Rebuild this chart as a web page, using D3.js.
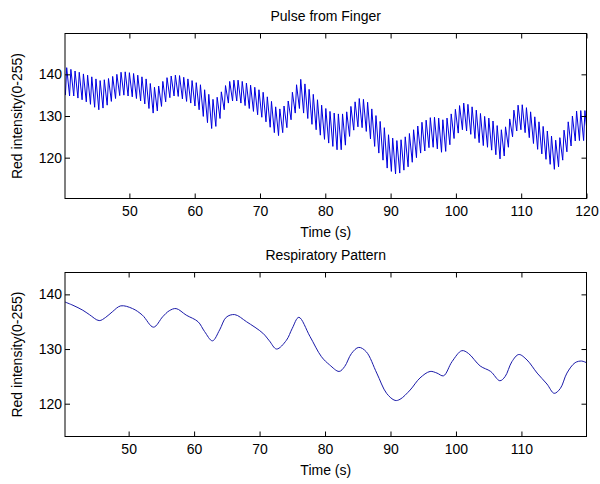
<!DOCTYPE html>
<html><head><meta charset="utf-8">
<script src="https://cdn.jsdelivr.net/npm/d3@7"></script>
<style>
body{margin:0;background:#fff}
text{font-family:"Liberation Sans",Arial,Helvetica,sans-serif;fill:#000}
</style>
</head><body>
<svg id="chart" width="600" height="484"></svg>
<script>
// ---------- data ----------
const pulseTitle = "Pulse from Finger";
const respTitle = "Respiratory Pattern";
const xLabel = "Time (s)";
const yLabel = "Red intensity(0-255)";
const pulseXTicks = [50, 60, 70, 80, 90, 100, 110, 120];
const respXTicks = [50, 60, 70, 80, 90, 100, 110];
const yTickValues = [120, 130, 140];
const pulseXDomain = [40.14, 120];
const pulseYDomain = [110.2, 149.8];
const respXDomain = [40.28, 119.94];
const respYDomain = [114, 144];

// pulse: beat onset times on a regular grid (s), trough then peak of each beat
const beatStart = 40.2;
const beatPeriod = 0.64;
const riseTime = 0.2;
const pulseLow = [
135.0,134.8,134.8,134.3,133.9,133.4,132.8,132.1,131.5,131.9,
132.6,133.5,134.2,134.9,135.0,134.8,134.6,134.2,133.6,132.9,
131.8,130.7,131.2,132.3,133.4,134.4,134.8,134.7,134.1,133.5,
133.1,132.4,131.5,129.9,128.4,127.0,127.5,129.4,131.5,133.1,
133.6,133.6,133.1,132.5,131.8,131.1,130.3,129.7,128.6,127.3,
126.0,125.3,126.0,127.2,129.1,130.7,131.8,130.7,129.4,128.0,
126.7,125.4,124.4,123.5,122.7,121.9,121.9,123.0,125.1,126.6,
127.4,127.2,126.3,124.5,122.7,121.1,119.4,117.5,116.7,116.1,
116.3,117.0,117.8,118.9,120.0,121.1,121.6,122.4,122.5,122.1,
121.3,121.5,123.1,124.6,125.9,126.7,126.4,125.6,124.6,123.6,
122.9,122.5,121.8,120.7,119.7,120.4,122.5,125.0,126.4,126.7,
126.0,124.8,123.4,122.0,120.9,119.6,118.4,117.2,117.8,119.4,
121.4,122.8,124.0,124.1,124.1,124.4];
const pulseHigh = [
141.6,141.2,140.8,140.5,140.1,139.8,139.4,138.9,138.5,138.7,
139.0,139.5,140.0,140.5,140.6,140.4,140.2,139.8,139.4,138.9,
137.8,136.9,137.2,138.3,139.2,139.6,139.8,139.7,139.3,138.9,
138.5,138.0,137.5,136.3,135.2,134.0,134.5,135.8,137.3,138.3,
138.6,138.6,138.3,137.9,137.4,136.9,136.3,135.7,134.6,133.5,
132.2,131.7,132.4,133.6,135.7,137.5,138.8,137.7,136.4,135.2,
133.9,132.6,131.8,131.1,130.7,130.5,130.5,131.0,132.3,133.4,
134.2,134.0,133.3,131.7,130.1,128.7,127.2,125.5,124.7,124.1,
124.3,125.0,125.8,126.7,127.6,128.5,129.0,129.6,129.7,129.5,
129.1,129.5,130.5,131.6,132.5,133.1,132.8,132.2,131.4,130.6,
129.9,129.5,128.8,127.7,126.7,127.4,129.3,131.4,132.6,132.7,
132.0,131.0,129.8,128.6,127.5,126.4,125.2,124.2,124.8,126.6,
128.6,130.0,131.2,131.3,131.3];

// respiratory pattern
const respTime = [40.28,41.5,43.0,44.0,45.5,46.5,47.5,48.8,50.6,52.1,53.8,55.2,56.2,57.25,58.8,60.6,61.6,62.8,63.9,64.9,66.2,68.0,70.5,71.5,72.6,74.1,75.0,76.0,77.7,79.45,80.7,82.15,83.0,84.05,85.15,86.3,87.9,89.4,90.7,91.45,93.0,94.5,96.05,97.1,98.1,99.4,100.9,101.9,103.7,105.3,106.7,107.5,108.55,109.6,110.85,112.4,113.9,115.0,115.95,116.95,118.2,119.2,119.94];
const respValue = [138.6,138.0,137.1,136.3,135.2,135.8,136.8,137.9,137.4,136.2,134.0,135.9,137.0,137.4,136.2,135.0,133.2,131.5,133.5,135.8,136.3,135.0,132.9,131.5,130.0,131.6,133.8,135.8,132.3,128.6,127.1,125.9,126.8,129.2,130.3,129.5,125.6,121.9,120.6,120.8,122.5,124.7,125.9,125.6,125.1,127.7,129.7,129.2,126.9,125.9,124.2,124.95,127.7,129.0,128.0,125.6,123.6,121.9,122.8,125.6,127.5,127.8,127.5];

// ---------- build series ----------
const pulsePoints = [];
pulseLow.forEach((lo, i) => {
  const t = beatStart + i * beatPeriod;
  pulsePoints.push([t, lo]);
  if (i < pulseHigh.length) pulsePoints.push([t + riseTime, pulseHigh[i]]);
});
const respPoints = respTime.map((t, i) => [t, respValue[i]]);

// ---------- drawing ----------
const svg = d3.select("#chart");
const L = 65, R = 586.5;

function panel(opts) {
  const { top, bottom, xDomain, yDomain, xTicks, title, titleY, points, color, curve, id, width } = opts;
  const x = d3.scaleLinear().domain(xDomain).range([L, R]);
  const y = d3.scaleLinear().domain(yDomain).range([bottom, top]);
  const g = svg.append("g");

  svg.append("clipPath").attr("id", id).append("rect")
    .attr("x", L).attr("y", top).attr("width", R - L).attr("height", bottom - top);

  g.append("path").datum(points)
    .attr("clip-path", `url(#${id})`)
    .attr("fill", "none").attr("stroke", color).attr("stroke-width", width)
    .attr("stroke-linejoin", "round")
    .attr("d", d3.line().x(d => x(d[0])).y(d => y(d[1])).curve(curve));

  const fs = "14px";
  const axB = g.append("g").attr("transform", `translate(0,${bottom})`)
    .call(d3.axisBottom(x).tickValues(xTicks).tickSizeInner(-5).tickSizeOuter(0).tickPadding(8).tickFormat(d3.format("d")));
  const axT = g.append("g").attr("transform", `translate(0,${top})`)
    .call(d3.axisTop(x).tickValues(xTicks).tickSizeInner(-5).tickSizeOuter(0).tickFormat(""));
  const axL = g.append("g").attr("transform", `translate(${L},0)`)
    .call(d3.axisLeft(y).tickValues(yTickValues).tickSizeInner(-5).tickSizeOuter(0).tickPadding(3).tickFormat(d3.format("d")));
  const axR = g.append("g").attr("transform", `translate(${R},0)`)
    .call(d3.axisRight(y).tickValues(yTickValues).tickSizeInner(-5).tickSizeOuter(0).tickFormat(""));
  [axB, axT, axL, axR].forEach(a => {
    a.select(".domain").remove();
    a.selectAll("line").attr("stroke", "#000");
    a.selectAll("text").attr("font-size", fs).attr("font-family", "'Liberation Sans', Arial, sans-serif").attr("fill", "#000");
  });

  g.append("rect").attr("x", L).attr("y", top).attr("width", R - L).attr("height", bottom - top)
    .attr("fill", "none").attr("stroke", "#000").attr("stroke-width", 1);

  g.append("text").attr("x", (L + R) / 2).attr("y", titleY).attr("text-anchor", "middle")
    .attr("font-size", fs).text(title);
  g.append("text").attr("x", (L + R) / 2).attr("y", bottom + 38.5).attr("text-anchor", "middle")
    .attr("font-size", fs).text(xLabel);
  g.append("text").attr("transform", `translate(22,${(top + bottom) / 2}) rotate(-90)`)
    .attr("text-anchor", "middle").attr("font-size", fs).text(yLabel);
}

panel({ id: "c1", top: 33.5, bottom: 198.5, xDomain: pulseXDomain, yDomain: pulseYDomain,
  xTicks: pulseXTicks, title: pulseTitle, titleY: 20.5, points: pulsePoints,
  color: "#0000e0", curve: d3.curveLinear, width: 1 });
panel({ id: "c2", top: 272.5, bottom: 436.5, xDomain: respXDomain, yDomain: respYDomain,
  xTicks: respXTicks, title: respTitle, titleY: 259.5, points: respPoints,
  color: "#1a1aa8", curve: d3.curveCatmullRom.alpha(0.5), width: 1 });
</script>
</body></html>
